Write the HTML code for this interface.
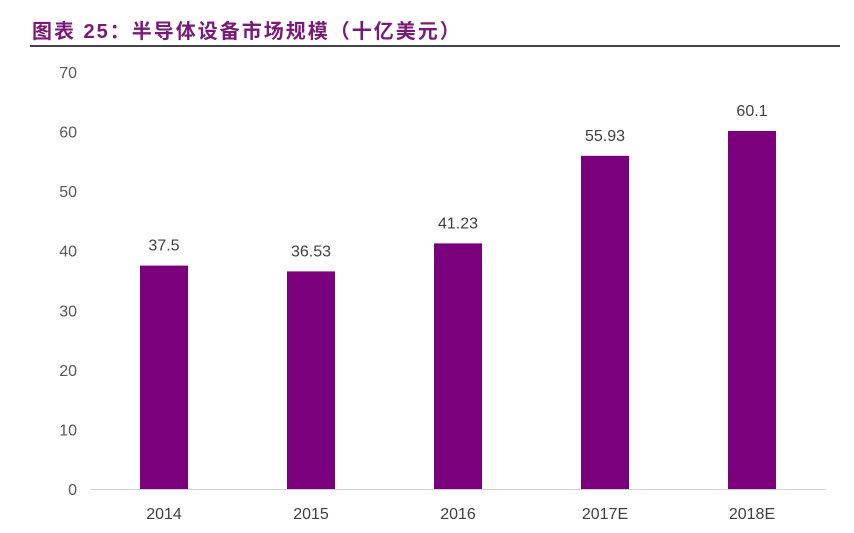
<!DOCTYPE html>
<html><head><meta charset="utf-8"><style>
body{margin:0;background:#fff;width:854px;height:533px;overflow:hidden;font-family:"Liberation Sans","Noto Sans CJK SC",sans-serif}
#title{position:absolute;left:32px;top:15px;font-size:20px;font-weight:bold;color:#7a1a78;letter-spacing:2px;white-space:nowrap;font-family:"Liberation Sans","Noto Sans CJK SC",sans-serif}
#rule{position:absolute;left:30px;top:45px;width:810px;height:1.5px;background:#444}
</style></head><body>
<div id="title">图表 25：半导体设备市场规模（十亿美元）</div>
<div id="rule"></div>
<svg id="chart" width="854" height="533" style="position:absolute;left:0;top:0"></svg>
<script>
const categories=["2014","2015","2016","2017E","2018E"];
const values=[37.5,36.53,41.23,55.93,60.1];
const valueLabels=["37.5","36.53","41.23","55.93","60.1"];
const yTicks=[0,10,20,30,40,50,60,70];
const NS="http://www.w3.org/2000/svg";
const svg=document.getElementById('chart');
const L=90.5,R=825.5,Y0=489,Y70=72;
const y=v=>Y0-(v/70)*(Y0-Y70);
const bw=(R-L)/categories.length;
const x=i=>L+bw*(i+0.5);
function mk(t,a){const e=document.createElementNS(NS,t);for(const k in a)e.setAttribute(k,a[k]);svg.appendChild(e);return e;}
const ax=mk('line',{x1:L,x2:R,y1:Y0+0.5,y2:Y0+0.5,stroke:'#d0d0d0','stroke-width':1});


yTicks.forEach(t=>{
 const e=mk('text',{x:77,y:y(t)+6,'text-anchor':'end','font-size':16,fill:'#595959','font-family':'Liberation Sans'});
 e.textContent=t;
 
 
});
categories.forEach((c,i)=>{
 const b=mk('rect',{x:x(i)-24,y:y(values[i]),width:48,height:Y0-y(values[i]),fill:'#7b007b'});
 
 
 const v=mk('text',{x:x(i),y:y(values[i])-15,'text-anchor':'middle','font-size':16,fill:'#404040','font-family':'Liberation Sans'});
 v.textContent=valueLabels[i];
 
 
 const t=mk('text',{x:x(i),y:Y0+30,'text-anchor':'middle','font-size':16,fill:'#404040','font-family':'Liberation Sans'});
 t.textContent=c;
 
 
});
</script>
</body></html>
